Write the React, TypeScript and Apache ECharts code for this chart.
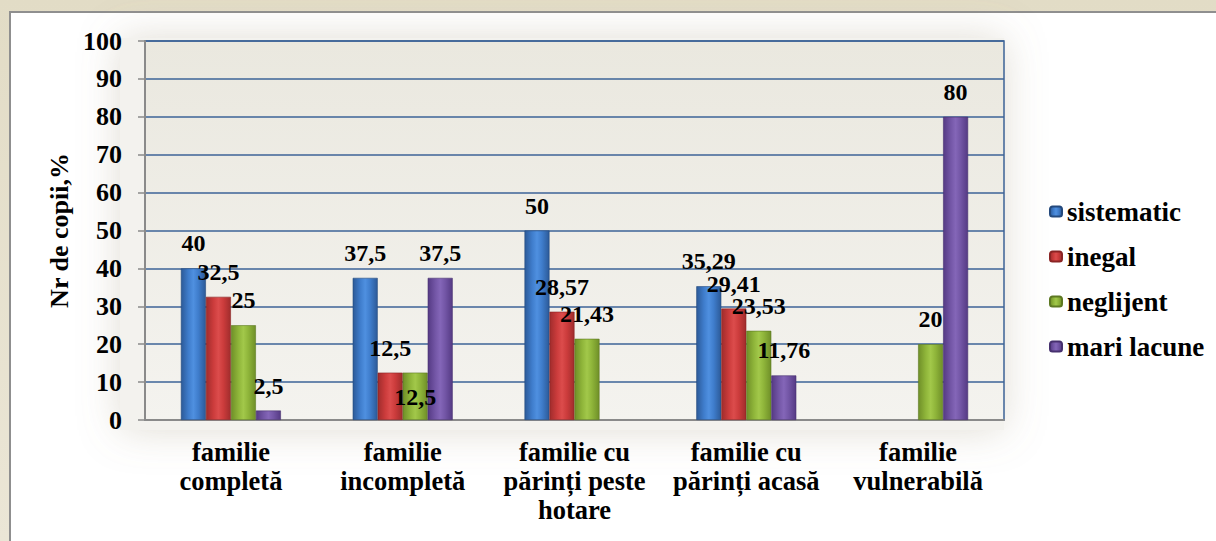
import React, { useEffect, useRef } from "react";
import * as echarts from "echarts";

const categories = [
  "familie\ncompletă",
  "familie\nincompletă",
  "familie cu\npărinți peste\nhotare",
  "familie cu\npărinți acasă",
  "familie\nvulnerabilă",
];
const seriesNames = ["sistematic", "inegal", "neglijent", "mari lacune"];
const sistematic = [40, 37.5, 50, 35.29, null];
const inegal = [32.5, 12.5, 28.57, 29.41, null];
const neglijent = [25, 12.5, 21.43, 23.53, 20];
const mariLacune = [2.5, 37.5, null, 11.76, 80];
const yMin = 0;
const yMax = 100;
const yInterval = 10;
const yAxisName = "Nr de copii,%";

const FONT = "Liberation Serif";

function barGradient(edge: string, mid: string, light: string) {
  return new echarts.graphic.LinearGradient(0, 0, 1, 0, [
    { offset: 0, color: edge },
    { offset: 0.3, color: mid },
    { offset: 0.5, color: light },
    { offset: 0.7, color: mid },
    { offset: 1, color: edge },
  ]);
}

const palette = [
  barGradient("#2c5a98", "#3f7dcc", "#4f90e0"),
  barGradient("#a02c2c", "#cc3c3c", "#dc4c4c"),
  barGradient("#6f8f28", "#8fb53a", "#a2c84a"),
  barGradient("#553a84", "#7356a6", "#8466b8"),
];
const borderColors = ["#24497c", "#8a2424", "#5d7822", "#46306e"];

export default function App() {
  const ref = useRef<HTMLDivElement>(null);

  useEffect(() => {
    if (!ref.current) return;
    const chart = echarts.init(ref.current, undefined, { renderer: "svg" });
    const fmt = (p: any) =>
      p.value == null ? "" : String(p.value).replace(".", ",");
    const valuesList = [sistematic, inegal, neglijent, mariLacune];

    const series = valuesList.map((vals, si) => ({
      name: seriesNames[si],
      type: "bar",
      barWidth: 25,
      barGap: "0%",
      itemStyle: {
        color: palette[si],
        borderColor: borderColors[si],
        borderWidth: 0.6,
      },
      label: {
        show: true,
        position: "top",
        distance: 13,
        formatter: fmt,
        color: "#000",
        fontFamily: FONT,
        fontWeight: "bold",
        fontSize: 24,
      },
      data: vals.map((v, ci) =>
        si === 2 && ci === 1
          ? { value: v, label: { position: "insideTop", distance: 12 } }
          : v
      ),
      z: 3,
    }));

    chart.setOption({
      animation: false,
      textStyle: { fontFamily: FONT },
      backgroundColor: new echarts.graphic.LinearGradient(0, 0, 0, 1, [
        { offset: 0, color: "#e2dcc6" },
        { offset: 1, color: "#ebe6d6" },
      ]),
      graphic: [
        {
          type: "rect",
          z: -10,
          silent: true,
          shape: { x: 10, y: 12, width: 1220, height: 540 },
          style: { fill: "#ffffff", stroke: "#8f8f8f", lineWidth: 2 },
        },
        {
          type: "rect",
          z: -5,
          silent: true,
          shape: { x: 120, y: 38, width: 884, height: 392 },
          style: {
            fill: "#f3f2ee",
            shadowBlur: 40,
            shadowColor: "rgba(150,140,110,0.3)",
          },
        },
      ],
      grid: {
        left: 145,
        right: 212,
        top: 41,
        bottom: 121,
        show: true,
        backgroundColor: new echarts.graphic.LinearGradient(0, 0, 0, 1, [
          { offset: 0, color: "#eae8df" },
          { offset: 1, color: "#f4f3ef" },
        ]),
        borderColor: "#3d6397",
        borderWidth: 1.5,
      },
      legend: {
        orient: "vertical",
        left: 1044,
        top: 193,
        itemWidth: 12,
        itemHeight: 10,
        itemGap: 18,
        data: seriesNames,
        textStyle: {
          fontFamily: FONT,
          fontWeight: "bold",
          fontSize: 27,
          color: "#000",
        },
      },
      xAxis: {
        type: "category",
        data: categories,
        axisTick: { show: false },
        axisLine: { lineStyle: { color: "#8a8a8a", width: 2 } },
        axisLabel: {
          interval: 0,
          margin: 17,
          color: "#000",
          fontFamily: FONT,
          fontWeight: "bold",
          fontSize: 26.5,
          lineHeight: 29,
        },
      },
      yAxis: {
        type: "value",
        min: yMin,
        max: yMax,
        interval: yInterval,
        name: yAxisName,
        nameLocation: "middle",
        nameRotate: 90,
        nameGap: 71,
        nameTextStyle: {
          color: "#000",
          fontFamily: FONT,
          fontWeight: "bold",
          fontSize: 26,
        },
        axisLine: { show: true, lineStyle: { color: "#8a8a8a", width: 2 } },
        axisTick: {
          show: true,
          length: 7,
          lineStyle: { color: "#8a8a8a", width: 1.5 },
        },
        splitLine: { lineStyle: { color: "#3d6397", width: 1.5 } },
        axisLabel: {
          margin: 23,
          color: "#000",
          fontFamily: FONT,
          fontWeight: "bold",
          fontSize: 26,
        },
      },
      series,
    });
    return () => chart.dispose();
  }, []);

  return (
    <div
      ref={ref}
      style={{ position: "absolute", left: 0, top: 0, width: 1216, height: 541 }}
    />
  );
}
